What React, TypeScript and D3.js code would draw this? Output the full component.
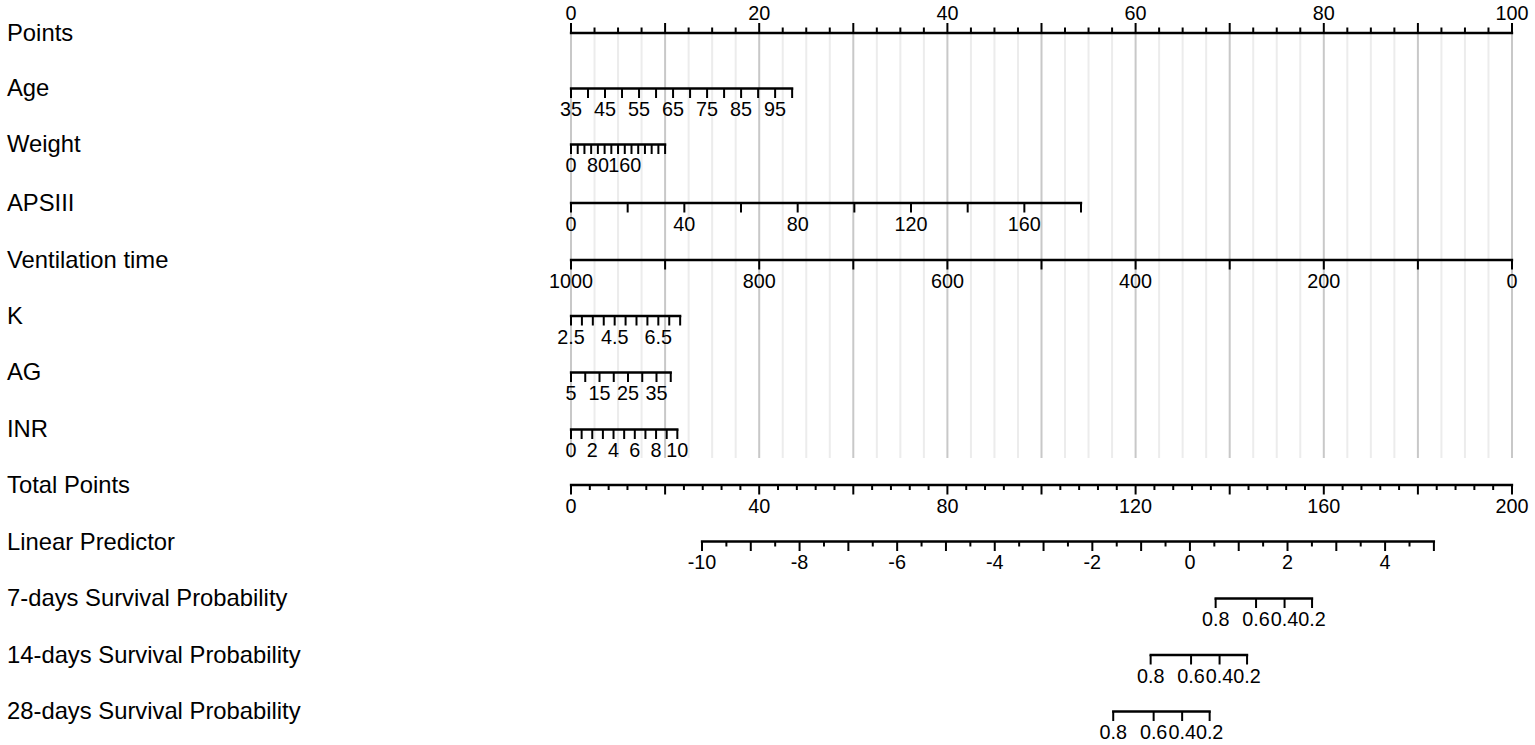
import React from "react";
import * as d3 from "d3";

// ---------- data ----------
const pointsTicks = d3.range(0, 100.001, 2.5);
const pointsMajor = [0, 10, 20, 30, 40, 50, 60, 70, 80, 90, 100];
const pointsLabels = [0, 20, 40, 60, 80, 100];

const variableNames = ["Age", "Weight", "APSIII", "Ventilation time", "K", "AG", "INR"];
const variableDomains: [number, number][] = [
  [35, 100],
  [0, 280],
  [0, 180],
  [1000, 0],
  [2.5, 7.5],
  [5, 40],
  [0, 10],
];
const variablePoints: [number, number][] = [
  [0, 23.5],
  [0, 10.0],
  [0, 54.2],
  [0, 100],
  [0, 11.6],
  [0, 10.6],
  [0, 11.3],
];
const variableTicks: number[][] = [
  [35, 40, 45, 50, 55, 60, 65, 70, 75, 80, 85, 90, 95, 100],
  [0, 20, 40, 60, 80, 100, 120, 140, 160, 180, 200, 220, 240, 260, 280],
  [0, 20, 40, 60, 80, 100, 120, 140, 160, 180],
  [1000, 900, 800, 700, 600, 500, 400, 300, 200, 100, 0],
  [2.5, 3, 3.5, 4, 4.5, 5, 5.5, 6, 6.5, 7, 7.5],
  [5, 10, 15, 20, 25, 30, 35, 40],
  [0, 1, 2, 3, 4, 5, 6, 7, 8, 9, 10],
];
const variableLabels: number[][] = [
  [35, 45, 55, 65, 75, 85, 95],
  [0, 80, 160],
  [0, 40, 80, 120, 160],
  [1000, 800, 600, 400, 200, 0],
  [2.5, 4.5, 6.5],
  [5, 15, 25, 35],
  [0, 2, 4, 6, 8, 10],
];

const totalDomain: [number, number] = [0, 200];
const totalTicks = d3.range(0, 200.001, 4);
const totalMajor = [0, 20, 40, 60, 80, 100, 120, 140, 160, 180, 200];
const totalLabels = [0, 40, 80, 120, 160, 200];

// linear predictor: value -> total points
const lpDomain: [number, number] = [-10, 5];
const lpTotalPoints: [number, number] = [27.84, 183.4];
const lpTicks = d3.range(-10, 5.001, 0.5);
const lpMajor = [-10, -9, -8, -7, -6, -5, -4, -3, -2, -1, 0, 1, 2, 3, 4, 5];
const lpLabels = [-10, -8, -6, -4, -2, 0, 2, 4];

const survNames = [
  "7-days Survival Probability",
  "14-days Survival Probability",
  "28-days Survival Probability",
];
const survLogBaseHazard = [-2.027, -0.695, 0.072];
const survTicks = [0.8, 0.6, 0.4, 0.2];

// ---------- layout ----------
const W = 1535;
const H = 745;
const X0 = 571;
const X1 = 1512;
const ROWS = [33, 88, 144, 202.5, 259.5, 315.5, 372, 429, 485, 541.5, 598, 654.5, 711];
const GRID_BOTTOM = 458;
const FONT = "'Liberation Sans', Arial, Helvetica, sans-serif";
const LABEL_FS = 23.8;
const TICK_FS = 19.8;

export default function App() {
  const xPts = d3.scaleLinear().domain([0, 100]).range([X0, X1]);
  const xTot = d3.scaleLinear().domain(totalDomain).range([X0, X1]);
  const lpToTot = d3.scaleLinear().domain(lpDomain).range(lpTotalPoints);
  const xLp = (v: number) => xTot(lpToTot(v));

  const rowY = (i: number) => ROWS[i];
  const fmt = (v: number) => String(v);

  const rowLabel = (text: string, i: number) => (
    <text
      key={"rl" + i}
      x={7}
      y={rowY(i) + 8}
      fontSize={LABEL_FS}
      fontFamily={FONT}
      fill="#000"
    >
      {text}
    </text>
  );

  const axisDown = (
    key: string,
    y: number,
    sx: (v: number) => number,
    ends: [number, number],
    ticks: number[],
    major: number[] | null,
    labels: number[],
    format: (v: number) => string
  ) => (
    <g key={key}>
      <line
        x1={sx(ends[0])}
        x2={sx(ends[1])}
        y1={y}
        y2={y}
        stroke="#000"
        strokeWidth={2.3}
        strokeLinecap="square"
      />
      {ticks.map((t, j) => {
        const isMajor = major ? major.some((m) => Math.abs(m - t) < 1e-9) : true;
        return (
          <line
            key={j}
            x1={sx(t)}
            x2={sx(t)}
            y1={y}
            y2={y + (isMajor ? 9.5 : 5)}
            stroke="#000"
            strokeWidth={2}
          />
        );
      })}
      {labels.map((l, j) => (
        <text
          key={"t" + j}
          x={sx(l)}
          y={y + 27.5}
          textAnchor="middle"
          fontSize={TICK_FS}
          fontFamily={FONT}
          fill="#000"
        >
          {format(l)}
        </text>
      ))}
    </g>
  );

  return (
    <div style={{ position: "fixed", left: 0, top: 0, background: "#fff" }}>
      <svg width={W} height={H} style={{ display: "block" }}>
        <rect width={W} height={H} fill="#fff" />
        {/* grid */}
        {pointsTicks.map((t, j) => {
          const isMajor = pointsMajor.some((m) => Math.abs(m - t) < 1e-9);
          return (
            <line
              key={"g" + j}
              x1={xPts(t)}
              x2={xPts(t)}
              y1={rowY(0)}
              y2={GRID_BOTTOM}
              stroke={isMajor ? "#c8c8c8" : "#ececec"}
              strokeWidth={2}
            />
          );
        })}

        {/* Points axis */}
        {rowLabel("Points", 0)}
        <g>
          <line x1={xPts(0)} x2={xPts(100)} y1={rowY(0)} y2={rowY(0)} stroke="#000" strokeWidth={2.3} strokeLinecap="square" />
          {pointsTicks.map((t, j) => {
            const isMajor = pointsMajor.some((m) => Math.abs(m - t) < 1e-9);
            return (
              <line
                key={j}
                x1={xPts(t)}
                x2={xPts(t)}
                y1={rowY(0)}
                y2={rowY(0) - (isMajor ? 10 : 5.5)}
                stroke="#000"
                strokeWidth={2}
              />
            );
          })}
          {pointsLabels.map((l, j) => (
            <text
              key={j}
              x={xPts(l)}
              y={rowY(0) - 13}
              textAnchor="middle"
              fontSize={TICK_FS}
              fontFamily={FONT}
              fill="#000"
            >
              {l}
            </text>
          ))}
        </g>

        {/* variables */}
        {variableNames.map((name, i) => {
          const dom = variableDomains[i];
          const pr = variablePoints[i];
          const toPts = d3.scaleLinear().domain(dom).range(pr);
          const sx = (v: number) => xPts(toPts(v));
          const y = rowY(i + 1) + 0.5;
          return (
            <g key={name}>
              {rowLabel(name, i + 1)}
              {axisDown(name + "ax", y, sx, dom, variableTicks[i], null, variableLabels[i], fmt)}
            </g>
          );
        })}

        {/* Total points */}
        {rowLabel("Total Points", 8)}
        {axisDown("tot", rowY(8), xTot, totalDomain, totalTicks, totalMajor, totalLabels, fmt)}

        {/* Linear predictor */}
        {rowLabel("Linear Predictor", 9)}
        {axisDown("lp", rowY(9), xLp, lpDomain, lpTicks, lpMajor, lpLabels, fmt)}

        {/* Survival */}
        {survNames.map((name, k) => {
          const lh = survLogBaseHazard[k];
          const sToLp = (s: number) => Math.log(-Math.log(s)) - lh;
          const sx = (s: number) => xLp(sToLp(s));
          const ends: [number, number] = [survTicks[0], survTicks[survTicks.length - 1]];
          return (
            <g key={name}>
              {rowLabel(name, 10 + k)}
              {axisDown(
                "s" + k,
                rowY(10 + k) + 0.5,
                sx,
                ends,
                survTicks,
                null,
                survTicks,
                (v) => v.toFixed(1)
              )}
            </g>
          );
        })}
      </svg>
    </div>
  );
}
